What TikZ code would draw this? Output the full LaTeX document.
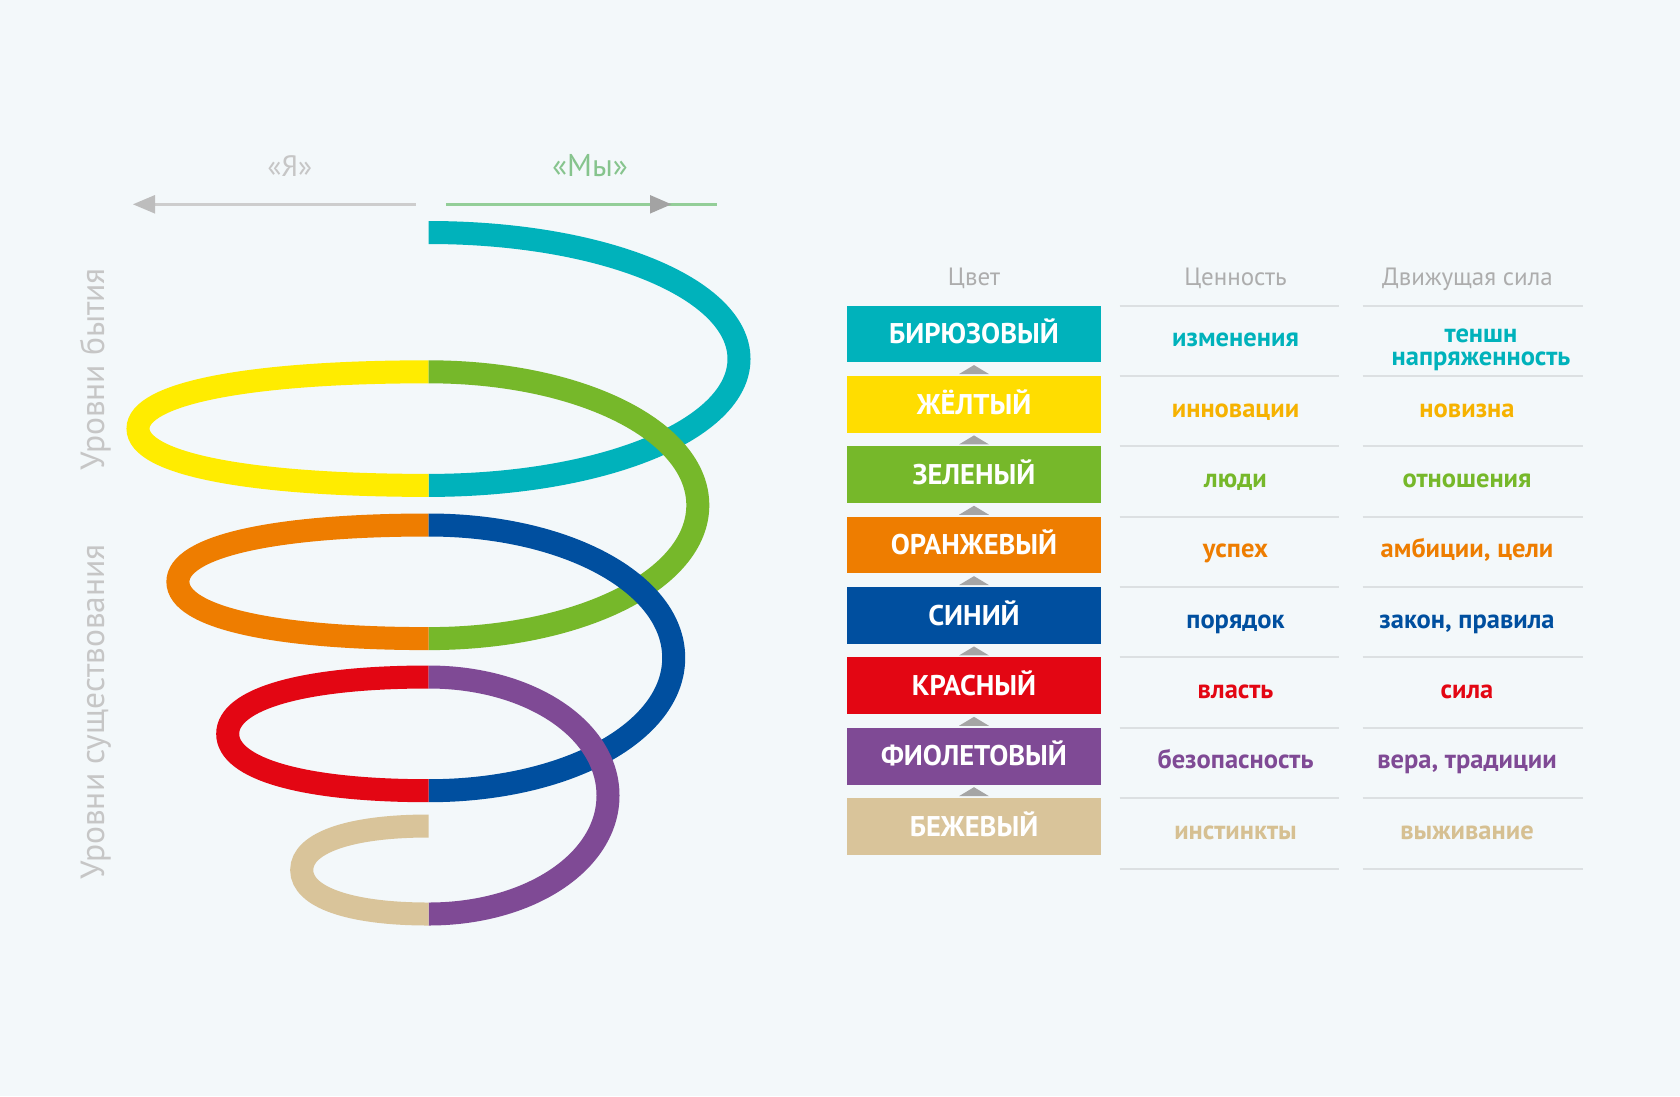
\documentclass[tikz,border=0pt]{standalone}
\usepackage{fontspec}
\setmainfont{PT Sans}
\definecolor{bgc}{HTML}{F3F8FA}
\definecolor{cteal}{HTML}{00B2BB}
\definecolor{cyelS}{HTML}{FFEC00}
\definecolor{cyelB}{HTML}{FFDD00}
\definecolor{cyelT}{HTML}{F6B200}
\definecolor{cgreen}{HTML}{76B82A}
\definecolor{corange}{HTML}{EE7D00}
\definecolor{cblue}{HTML}{004F9F}
\definecolor{cred}{HTML}{E30613}
\definecolor{cpurple}{HTML}{7F4A95}
\definecolor{cbeige}{HTML}{D9C49A}
\definecolor{cbeigeT}{HTML}{D6C092}
\definecolor{cgrayline}{HTML}{CDCDCD}
\definecolor{cgrayhead}{HTML}{BDBDBD}
\definecolor{cgraytxt}{HTML}{C6C6C6}
\definecolor{cgreenline}{HTML}{93CE98}
\definecolor{cgreentxt}{HTML}{86C48D}
\definecolor{cdarkhead}{HTML}{A3A3A3}
\definecolor{cheader}{HTML}{ADADAD}
\definecolor{csep}{HTML}{DCE0E2}
\definecolor{ctri}{HTML}{A5A5A5}
\newcommand{\spiralseg}[5]{%
  \pgfmathsetmacro{\ym}{(#2+#3)/2}%
  \pgfmathsetmacro{\hr}{(#3-#2)/2}%
  \draw[spiral,#1] (\ax,#2) .. controls ({\ax+#5*#4},#2) and ({\ax+#4},{\ym-#5*\hr}) .. ({\ax+#4},\ym) .. controls ({\ax+#4},{\ym+#5*\hr}) and ({\ax+#5*#4},#3) .. (\ax,#3);%
}
\def\ax{428.6}
\begin{document}
\begin{tikzpicture}[x=1pt,y=-1pt,
  spiral/.style={line width=23pt,line cap=butt},
  boxlab/.style={anchor=base,text=white,font=\fontsize{28.5}{30}\selectfont\bfseries},
  coltxt/.style={anchor=base,font=\fontsize{26.5}{22.3}\selectfont\bfseries},
  header/.style={anchor=base,text=cheader,font=\fontsize{25}{28}\selectfont},
  sidetxt/.style={anchor=base,text=cgraytxt,font=\fontsize{33.5}{36}\selectfont,rotate=90},
  sepline/.style={draw=csep,line width=2pt},
  tri/.style={fill=ctri}]
\fill[bgc] (0,0) rectangle (1680,1096);
\useasboundingbox (0,0) rectangle (1680,1096);
% top arrows
\draw[cgrayline,line width=2.7pt] (415.7,204.3) -- (150,204.3);
\fill[cgrayhead] (133,204.3) -- (155,195) -- (155,213.6) -- cycle;
\draw[cgreenline,line width=2.7pt] (446,204.3) -- (717,204.3);
\fill[cdarkhead] (671.4,204.3) -- (650,195) -- (650,213.6) -- cycle;
\node[anchor=base,text=cgraytxt,font=\fontsize{29.5}{32}\selectfont] (ya) at (289.8,176) {«Я»};
\node[anchor=base,text=cgreentxt,font=\fontsize{31.5}{34}\selectfont] (my) at (590,176) {«Мы»};
% side labels
\node[sidetxt] (byt) at (104,369.5) {Уровни бытия};
\node[sidetxt] (sush) at (104,712) {Уровни существования};
% spiral
\spiralseg{cteal}{232.5}{485.4}{310.4}{0.56}
\spiralseg{cyelS}{371.8}{485.4}{(-290.6)}{0.62}
\spiralseg{cgreen}{371.8}{638.6}{269.2}{0.56}
\spiralseg{corange}{525}{638.6}{(-250.7)}{0.62}
\spiralseg{cblue}{525}{790.7}{245.1}{0.56}
\spiralseg{cred}{677}{790.7}{(-200.9)}{0.62}
\spiralseg{cpurple}{677}{914}{179.4}{0.56}
\spiralseg{cbeige}{826}{914}{(-126.9)}{0.62}
% headers
\node[header] (h1) at (974,285) {Цвет};
\node[header] (h2) at (1235.5,285) {Ценность};
\node[header] (h3) at (1467.5,285) {Движущая сила};
% separator lines
\foreach \i in {0,...,8}{
  \pgfmathsetmacro{\yy}{305.7+70.35*\i}
  \draw[sepline] (1119.6,\yy) -- (1339,\yy);
  \draw[sepline] (1362.5,\yy) -- (1582.5,\yy);
}
% first row
\fill[cteal] (847.4,305.7) rectangle (1100.6,362.4);
\node[boxlab] (box0) at (974,343.7) {БИРЮЗОВЫЙ};
\node[coltxt,text=cteal] (val0) at (1235.5,346.7) {изменения};
\node[coltxt,text=cteal,align=center,inner sep=1pt] (drv0) at (1481,365) {теншн\\напряженность};
% other rows
\foreach \i/\lab/\val/\drv/\bc/\tc in {
  1/ЖЁЛТЫЙ/инновации/новизна/cyelB/cyelT,
  2/ЗЕЛЕНЫЙ/люди/отношения/cgreen/cgreen,
  3/ОРАНЖЕВЫЙ/успех/{амбиции, цели}/corange/corange,
  4/СИНИЙ/порядок/{закон, правила}/cblue/cblue,
  5/КРАСНЫЙ/власть/сила/cred/cred,
  6/ФИОЛЕТОВЫЙ/безопасность/{вера, традиции}/cpurple/cpurple,
  7/БЕЖЕВЫЙ/инстинкты/выживание/cbeige/cbeigeT}{
  \pgfmathsetmacro{\yt}{305.7+70.35*\i}
  \fill[\bc] (847.4,\yt) rectangle (1100.6,{\yt+56.7});
  \node[boxlab] (box\i) at (974,{\yt+38}) {\lab};
  \node[coltxt,text=\tc] (val\i) at (1235.5,{\yt+41}) {\val};
  \node[coltxt,text=\tc] (drv\i) at (1467,{\yt+41}) {\drv};
}
% small triangles
\foreach \i in {1,...,7}{
  \pgfmathsetmacro{\yt}{305.7+70.35*\i}
  \fill[tri] (974,{\yt-11}) -- (989,{\yt-2}) -- (959,{\yt-2}) -- cycle;
}
\end{tikzpicture}
\end{document}
